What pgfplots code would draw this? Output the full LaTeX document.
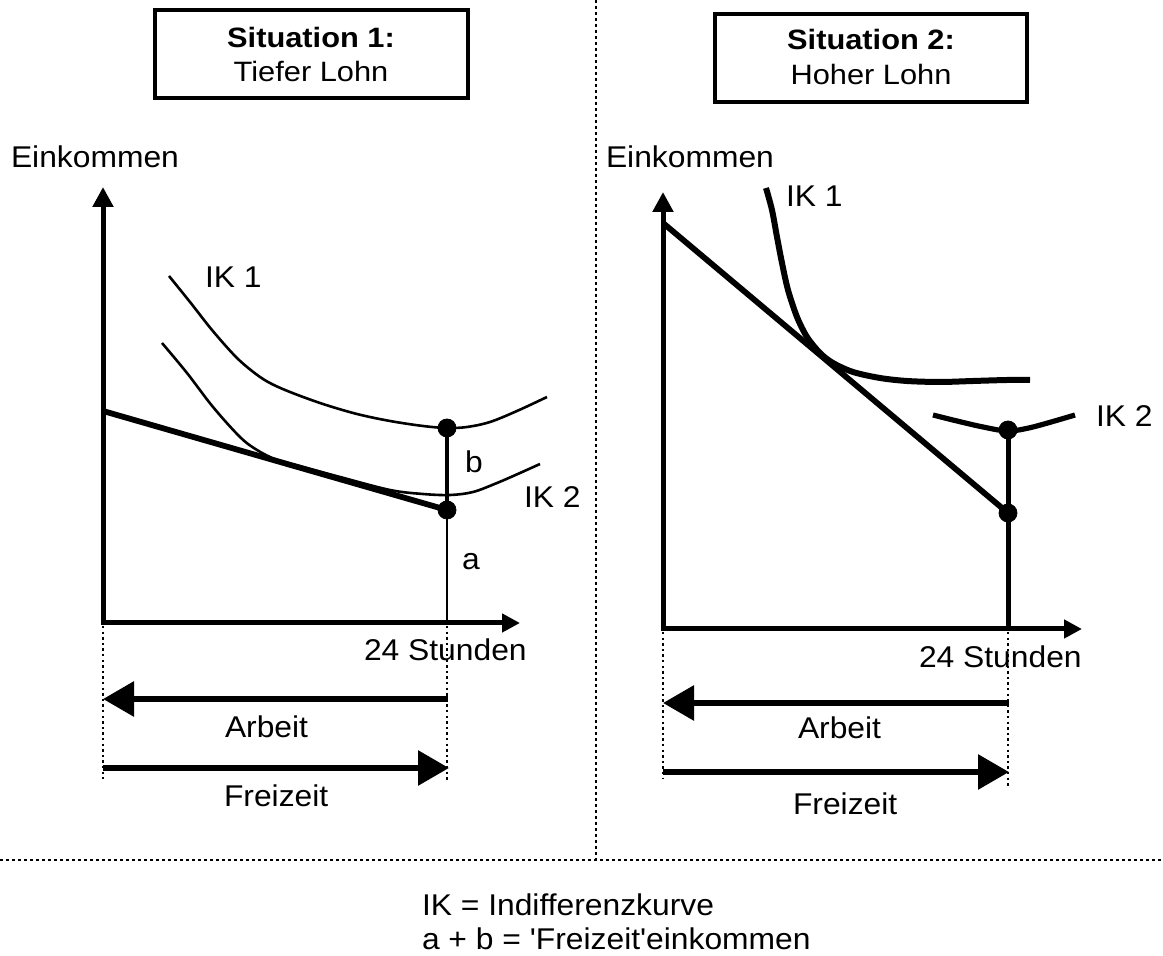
\documentclass[border=0pt]{standalone}
\usepackage{fontspec}
\setmainfont{Liberation Sans}[FakeStretch=1.06,Ligatures=TeXOff]
\newfontfamily\titlefont{Liberation Sans}[FakeStretch=1.1]
\usepackage{pgfplots}
\pgfplotsset{compat=1.18}
\usetikzlibrary{arrows.meta}
\newcommand\mf{\fontsize{15}{17}\selectfont}
\newcommand\tf{\titlefont\fontsize{14}{16}\selectfont}
\begin{document}
\begin{tikzpicture}[
  lbl/.style={inner sep=0pt,outer sep=0pt,font=\mf,anchor=base west},
  ttl/.style={inner sep=0pt,outer sep=0pt,anchor=base},
  sep/.style={line width=1.2pt,dash pattern=on 1.4pt off 1.6pt},
  dot/.style={line width=1pt,dash pattern=on 1.2pt off 1.6pt},
  bigarrow/.style={line width=3pt,-{Triangle[length=15.5pt,width=17pt]}},
  axarrow/.style={line width=2.5pt,line join=miter,{Triangle[length=10pt,width=10pt]}-{Triangle[length=9pt,width=9pt]}}
]
\begin{axis}[width=581.5pt,height=478pt,scale only axis,
  xmin=0,xmax=1163,ymin=0,ymax=956,y dir=reverse,hide axis,clip=false]

% separators
\draw[sep] (596,0) -- (596,860);
\draw[sep] (0,860) -- (1163,860);

% title boxes
\draw[line width=2pt] (155,10) rectangle (468,98);
\node[ttl,font=\tf\bfseries] at (311,48) {Situation 1:};
\node[ttl,font=\tf] at (311,82) {Tiefer Lohn};
\draw[line width=2pt] (715,14) rectangle (1027,102);
\node[ttl,font=\tf\bfseries] at (871,50) {Situation 2:};
\node[ttl,font=\tf] at (871,85) {Hoher Lohn};

% ---------- left panel ----------
\draw[axarrow] (103,187) -- (103,623) -- (520,623);
\node[lbl] at (11,168) {Einkommen};
\node[lbl] at (364,661) {24 Stunden};

% IK 1 (upper)
\addplot[line width=1.3pt,smooth,tension=0.55] coordinates {
 (169,276) (190,302) (212,330) (235,356) (252,371) (268,382) (290,392) (323,404)
 (357,414) (390,421) (423,426) (447,428) (467,427) (490,422) (517,411) (547,397)};
% IK 2 (lower)
\addplot[line width=1.3pt,smooth,tension=0.55] coordinates {
 (162,343) (187,373) (213,407) (240,437) (257,450) (277,460) (303,467)
 (340,477) (390,490) (423,494) (450,495) (473,492) (497,483) (520,473) (540,464)};
% budget line
\addplot[line width=2.9pt] coordinates {(103,411) (447,510)};
% vertical line
\addplot[line width=2pt] coordinates {(447,428) (447,510)};
\addplot[line width=1.3pt] coordinates {(447,510) (447,623)};
\addplot[only marks,mark=*,mark size=4.5pt] coordinates {(447,428) (447,510)};

\node[lbl] at (205,288) {IK 1};
\node[lbl] at (524,508) {IK 2};
\node[lbl] at (465,473) {b};
\node[lbl] at (462,570) {a};

% dotted guides
\draw[dot] (103,626) -- (103,779);
\draw[dot] (447,626) -- (447,781);
% Arbeit / Freizeit
\draw[bigarrow] (448,699) -- (103,699);
\node[lbl] at (225,738) {Arbeit};
\draw[bigarrow] (103,768) -- (449,768);
\node[lbl] at (224,807) {Freizeit};

% ---------- right panel ----------
\draw[axarrow] (663,192) -- (663,629) -- (1082,629);
\node[lbl] at (606,168) {Einkommen};
\node[lbl] at (919,668) {24 Stunden};

% IK 1
\addplot[line width=3pt,smooth,tension=0.5] coordinates {
 (766,188) (772,210) (777,237) (782,263) (788,290) (797,317) (807,337)
 (820,353) (833,363) (853,372) (880,378) (907,381) (940,382) (973,381) (1007,380) (1030,380)};
% IK 2
\addplot[line width=2.6pt,smooth,tension=0.5] coordinates {
 (933,415) (957,421) (983,427) (1008,431) (1033,427) (1075,415)};
% budget line
\addplot[line width=2.9pt] coordinates {(663,223) (1008,513)};
% vertical line
\addplot[line width=2.5pt] coordinates {(1008,430) (1008,629)};
\addplot[only marks,mark=*,mark size=4.5pt] coordinates {(1008,430) (1008,513)};

\node[lbl] at (786,207) {IK 1};
\node[lbl] at (1096,427) {IK 2};

% dotted guides
\draw[dot] (663,632) -- (663,779);
\draw[dot] (1008,632) -- (1008,787);
% Arbeit / Freizeit
\draw[bigarrow] (1009,703) -- (663,703);
\node[lbl] at (798,739) {Arbeit};
\draw[bigarrow] (663,772) -- (1009,772);
\node[lbl] at (793,815) {Freizeit};

% legend text
\node[lbl] at (422,915) {IK = Indifferenzkurve};
\node[lbl] at (422,950) {a + b = 'Freizeit'einkommen};
\end{axis}
\pgfresetboundingbox
\useasboundingbox (0,0) rectangle (581.5pt,478pt);
\end{tikzpicture}
\end{document}
